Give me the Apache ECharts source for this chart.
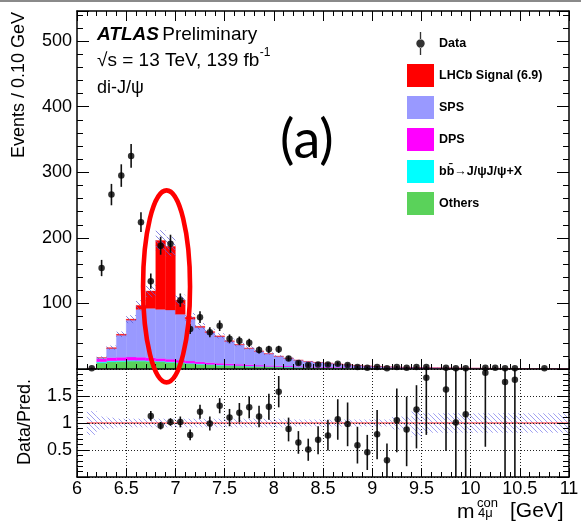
<!DOCTYPE html>
<html><head><meta charset="utf-8">
<script src="https://cdn.jsdelivr.net/npm/echarts@6/dist/echarts.min.js"></script>
<style>html,body{margin:0;padding:0;background:#fff}#c{width:581px;height:527px}</style>
</head><body><div id="c"></div>
<script>
// ---------- DATA ----------
// histogram bin edges (GeV)
const binEdges = [6.1,6.2,6.3,6.4,6.5,6.6,6.7,6.8,6.9,7.0,7.1,7.2,7.3,7.4,7.5,7.6,7.7,7.8,7.9,8.0,
  8.1,8.2,8.3,8.4,8.5,8.6,8.7,8.8,8.9,9.0,9.1,9.2,9.3,9.4,9.5,9.6,9.7,9.8,9.9,10.0,
  10.1,10.2,10.3,10.4,10.5,10.6,10.7,10.8,10.9,11.0];
// stacked predictions per bin (events / 0.1 GeV)
const others = [0.5,9.5,11,11.5,12,12,11.5,11,10,9, 8,7,6.2,5.5,5,4.5,4,3.6,3.3,3,
  2.7,2.4,2.2,2,1.8,1.6,1.5,1.4,1.3,1.2, 1.1,1.0,0.9,0.85,0.8,0.75,0.7,0.65,0.6,0.55,
  0.5,0.45,0.42,0.4,0.37,0.35,0.32,0.3,0.28];
const bbbar = [0.1,1.5,1.5,1.4,1.3,1.2,1.1,1.0,1.0,0.9, 0.8,0.8,0.7,0.7,0.6,0.6,0.5,0.5,0.5,0.4,
  0.4,0.4,0.35,0.35,0.3,0.3,0.3,0.25,0.25,0.2, 0.2,0.2,0.18,0.17,0.16,0.15,0.14,0.13,0.12,0.11,
  0.1,0.1,0.09,0.09,0.08,0.08,0.07,0.07,0.07];
const dps = [0.2,4.5,5,5,5,4.8,4.5,4.2,4,3.7, 3.4,3.1,2.8,2.6,2.4,2.2,2,1.8,1.6,1.5,
  1.4,1.3,1.2,1.1,1.0,0.9,0.8,0.75,0.7,0.65, 0.6,0.55,0.5,0.45,0.4,0.38,0.35,0.33,0.3,0.28,
  0.26,0.24,0.22,0.2,0.19,0.18,0.17,0.16,0.15];
const sps = [0.1,1.5,13.8,33.6,56.2,73.0,75.4,74.8,75.0,69.9, 63.8,52.6,46.1,40.7,34.2,29.6,25.0,21.2,17.8,14.4,
  11.85,9.3,7.75,6.55,5.7,4.8,3.9,3.1,2.35,1.85, 1.4,1.15,0.92,0.83,0.64,0.52,0.41,0.34,0.28,0.21,
  0.19,0.16,0.12,0.09,0.06,0.03,0.02,0,0];
const signal = [0,0.3,1.2,1.5,1.5,6,26.5,105,97,21.5, 3,1.5,1.2,1.0,0.8,0.6,0.5,0.4,0.3,0.2,
  0.15,0.1,0,0,0,0,0,0,0,0, 0,0,0,0,0,0,0,0,0,0, 0,0,0,0,0,0,0,0,0];
// relative uncertainty of the total prediction (hatched band)
const relUnc = [0.22,0.12,0.10, 0.08,0.08,0.08,0.08,0.08,0.08,0.08,0.08,0.08,0.08,0.08,0.08,0.08,0.08,0.08,0.08,0.08,
  0.065,0.065,0.065,0.065,0.065,0.065,0.065,0.065,0.065,0.065,0.065, 0.12,0.12,0.26,
  0.18,0.18,0.18,0.18,0.18,0.18,0.18,0.18,0.18,0.18,0.18,0.18,0.18,0.18,0.18];
// data points
const dataX = [6.15,6.25,6.35,6.45,6.55,6.65,6.75,6.85,6.95,7.05,7.15,7.25,7.35,7.45,7.55,7.65,7.75,7.85,7.95,8.05,
  8.15,8.25,8.35,8.45,8.55,8.65,8.75,8.85,8.95,9.05,9.15,9.25,9.35,9.45,9.55,
  9.75,9.85,9.95,10.15,10.25,10.35,10.45,10.75];
const dataY = [1,154,266,295,325,224,134,188,191,105,61,79,56,66,46,43,40,29,30,30,
  16,9,6,7,7,8,6,3,2,3,1,3,2,3,3,
  2,1,1,2,2,1,1,1];
const dataErr = [1,12.4,16.3,17.2,18,15,11.6,13.7,13.8,10.2,7.8,8.9,7.5,8.1,6.8,6.6,6.3,5.4,5.5,5.5,
  4,3,2.4,2.6,2.6,2.8,2.4,1.7,1.4,1.7,1,1.7,1.4,1.7,1.7,
  1.4,1,1,1.4,1.4,1,1,1];
// ratio panel
const ratioX = [6.75,6.85,6.95,7.05,7.15,7.25,7.35,7.45,7.55,7.65,7.75,7.85,7.95,8.05,
  8.15,8.25,8.35,8.45,8.55,8.65,8.75,8.85,8.95,9.05,9.15,9.25,9.35,9.45,9.55,
  9.75,9.85,9.95,10.15,10.35,10.45];
const ratioY = [1.13,0.95,1.02,1.02,0.78,1.21,0.99,1.32,1.10,1.19,1.29,1.12,1.30,1.58,
  0.89,0.64,0.51,0.69,0.77,1.07,0.98,0.59,0.46,0.79,0.31,1.05,0.88,1.25,1.84,
  1.62,1.01,1.16,1.93,1.76,1.80];
const ratioLo = [1.04,0.88,0.95,0.92,0.68,1.08,0.86,1.18,0.94,1.01,1.09,0.92,1.06,1.29,
  0.66,0.43,0.30,0.42,0.49,0.69,0.57,0.25,0.13,0.33,0,0.46,0.20,0.53,0.78,
  0.48,0,0,0.56,0,0];
const ratioHi = [1.22,1.02,1.09,1.12,0.88,1.34,1.12,1.46,1.26,1.37,1.49,1.32,1.54,1.87,
  1.10,0.85,0.71,0.94,1.06,1.44,1.38,0.93,0.78,1.24,0.62,1.64,1.49,1.70,2,
  2,2,2,2,2,2];
const xTicks = {min:6, max:11, step:0.5};
const yTopTicks = {min:0, max:546, major:100, minor:20};
const yRatioTicks = {min:0, max:2, step:0.5};
const legendNames = ['Data','LHCb Signal (6.9)','SPS','DPS','bb\u0304\u2192J/\u03c8J/\u03c8+X','Others'];

// ---------- CHART ----------
const F = '"Liberation Sans", Arial, Helvetica, sans-serif';
const chart = echarts.init(document.getElementById('c'), null, {renderer:'canvas'});

function makeHatch(color){
  const c = document.createElement('canvas'); c.width = 5; c.height = 5;
  const g = c.getContext('2d'); g.strokeStyle = color; g.lineWidth = 1;
  g.beginPath();
  g.moveTo(-1,-1); g.lineTo(6,6);
  g.moveTo(-1,4); g.lineTo(2,7);
  g.moveTo(4,-1); g.lineTo(7,2);
  g.stroke();
  return c;
}
const hatchTop = makeHatch('rgba(95,95,215,0.75)');
const hatchBot = makeHatch('rgba(120,120,235,0.7)');

const nb = binEdges.length - 1;
const comps = [
  {name: legendNames[5], color:'#5ad25a', vals: others},
  {name: legendNames[4], color:'#00ffff', vals: bbbar},
  {name: legendNames[3], color:'#ff00ff', vals: dps},
  {name: legendNames[2], color:'#9999ff', vals: sps},
  {name: legendNames[1], color:'#ff0000', vals: signal}
];
const base = new Array(nb).fill(0);
const stackSeries = comps.map(cp => {
  const d = [];
  for (let i = 0; i < nb; i++) {
    d.push([binEdges[i], binEdges[i+1], base[i], base[i] + cp.vals[i]]);
    base[i] += cp.vals[i];
  }
  return {
    type:'custom', name: cp.name, xAxisIndex:0, yAxisIndex:0, z:2,
    itemStyle:{color: cp.color}, data: d, silent:true,
    renderItem(params, api){
      const p0 = api.coord([api.value(0), api.value(2)]);
      const p1 = api.coord([api.value(1), api.value(3)]);
      return {type:'rect', shape:{x:p0[0], y:p1[1], width:p1[0]-p0[0], height:p0[1]-p1[1]},
        style:{fill: cp.color, stroke: cp.color, lineWidth:0.3}};
    }
  };
});
const totals = base.slice();
const bandTop = totals.map((t,i) => [binEdges[i], binEdges[i+1], t*(1-relUnc[i]), t*(1+relUnc[i])]);
const bandBot = relUnc.map((u,i) => [binEdges[i], binEdges[i+1], 1-u, 1+u]);

function bandSeries(data, xi, yi, pat){
  return {type:'custom', xAxisIndex:xi, yAxisIndex:yi, z:3, silent:true, clip:true, data,
    renderItem(params, api){
      const p0 = api.coord([api.value(0), api.value(2)]);
      const p1 = api.coord([api.value(1), api.value(3)]);
      return {type:'rect', shape:{x:p0[0], y:p1[1], width:p1[0]-p0[0], height:p0[1]-p1[1]},
        style:{fill:{image:pat, repeat:'repeat'}}};
    }};
}
function errSeries(data, xi, yi){
  return {type:'custom', xAxisIndex:xi, yAxisIndex:yi, z:4, silent:true, clip:true, data,
    renderItem(params, api){
      const a = api.coord([api.value(0), api.value(1)]);
      const b = api.coord([api.value(0), api.value(2)]);
      return {type:'line', shape:{x1:a[0], y1:a[1], x2:b[0], y2:b[1]}, style:{stroke:'#111', lineWidth:1.6}};
    }};
}

const axLine = {show:true, onZero:false, lineStyle:{color:'#000', width:1.5}};
function xAx(grid, pos, tickLen, minorLen, labels, split){
  return {gridIndex:grid, type:'value', position:pos, min:xTicks.min, max:xTicks.max, interval:xTicks.step, z:10,
    axisLine:axLine,
    axisTick:{show:true, inside:true, length:tickLen, lineStyle:{color:'#000', width:1}},
    minorTick:{show:true, splitNumber:5, length:minorLen, lineStyle:{color:'#000', width:1}},
    axisLabel:{show:labels, color:'#000', fontFamily:F, fontSize:18, margin:3, showMaxLabel:true, showMinLabel:true},
    splitLine:{show:split, lineStyle:{color:'#222', width:1, type:[1,2]}},
    minorSplitLine:{show:false}};
}
function yTopAx(pos, interval, tickLen, line, labels){
  return {gridIndex:0, type:'value', position:pos, min:yTopTicks.min, max:yTopTicks.max, interval, z:10,
    axisLine: line ? axLine : {show:false},
    axisTick:{show:true, inside:true, length:tickLen, lineStyle:{color:'#000', width:1}},
    axisLabel:{show:labels, color:'#000', fontFamily:F, fontSize:18, margin:5,
      formatter: v => (v > 0 && v <= 500 && v % 100 === 0) ? String(v) : ''},
    splitLine:{show:false}};
}
function yBotAx(pos, labels){
  return {gridIndex:1, type:'value', position:pos, min:yRatioTicks.min, max:yRatioTicks.max, interval:yRatioTicks.step, z:10,
    axisLine:axLine,
    axisTick:{show:true, inside:true, length:12, lineStyle:{color:'#000', width:1}},
    minorTick:{show:true, splitNumber:5, length:6, lineStyle:{color:'#000', width:1}},
    axisLabel:{show:labels, color:'#000', fontFamily:F, fontSize:18, margin:5,
      formatter: v => (v > 0 && v < 2) ? String(v) : ''},
    splitLine:{show:labels, lineStyle:{color:'#222', width:1, type:[1,2]}},
    minorSplitLine:{show:false}};
}

const option = {
  animation:false,
  backgroundColor:'#fff',
  grid:[
    {left:77, top:11, width:492, height:358, containLabel:false, outerBoundsMode:'none'},
    {left:77, top:369, width:492, height:108, containLabel:false, outerBoundsMode:'none'}
  ],
  xAxis:[
    xAx(0,'bottom',10,5,false,false),
    xAx(0,'top',10,5,false,false),
    xAx(1,'bottom',9,5,true,true)
  ],
  yAxis:[
    yTopAx('left',yTopTicks.major,12,true,true),
    yTopAx('left',yTopTicks.minor,6,false,false),
    yTopAx('right',yTopTicks.major,12,true,false),
    yTopAx('right',yTopTicks.minor,6,false,false),
    yBotAx('left',true),
    yBotAx('right',false)
  ],
  legend:{
    orient:'vertical', left:402, top:27, itemWidth:27, itemHeight:23, itemGap:9, selectedMode:false,
    textStyle:{fontFamily:F, fontWeight:'bold', fontSize:12.5, color:'#000'},
    data:[
      {name:legendNames[0], icon:'path://M11.3,0h1.4v8h-1.4z M11.3,16h1.4v8h-1.4z M7.6,12a4.4,4.4 0 1,0 8.8,0a4.4,4.4 0 1,0 -8.8,0z'},
      {name:legendNames[1], icon:'rect'},
      {name:legendNames[2], icon:'rect'},
      {name:legendNames[3], icon:'rect'},
      {name:legendNames[4], icon:'rect'},
      {name:legendNames[5], icon:'rect'}
    ]
  },
  series:[
    ...stackSeries,
    bandSeries(bandTop, 0, 0, hatchTop),
    errSeries(dataX.map((x,i) => [x, Math.max(0, dataY[i]-dataErr[i]), dataY[i]+dataErr[i]]), 0, 0),
    {type:'scatter', name:legendNames[0], xAxisIndex:0, yAxisIndex:0, z:5, symbol:'circle', symbolSize:6.5,
      itemStyle:{color:'#000'}, data: dataX.map((x,i) => [x, dataY[i]]), silent:true},
    bandSeries(bandBot, 2, 4, hatchBot),
    {type:'line', xAxisIndex:2, yAxisIndex:4, z:3, symbol:'none', silent:true,
      lineStyle:{color:'#ff2020', width:1}, data:[[binEdges[0],1],[binEdges[nb],1]]},
    errSeries(ratioX.map((x,i) => [x, ratioLo[i], ratioHi[i]]), 2, 4),
    {type:'scatter', xAxisIndex:2, yAxisIndex:4, z:5, symbol:'circle', symbolSize:6.5, clip:true,
      itemStyle:{color:'#000'}, data: ratioX.map((x,i) => [x, ratioY[i]]), silent:true}
  ]
};
chart.setOption(option);

// ---------- annotations / texts ----------
const mctx = document.createElement('canvas').getContext('2d');
function tw(str, size){ mctx.font = size + 'px ' + F; return mctx.measureText(str).width; }
const sLine = '\u221As = 13 TeV, 139 fb';
const ell = chart.convertToPixel({xAxisIndex:0, yAxisIndex:0}, [6.91, 126]);
const graphics = [
  {type:'rect', shape:{x:0, y:0, width:581, height:2}, style:{fill:'#8a8a8a'}, silent:true},
  {type:'text', x:97, y:35, style:{text:'{a|ATLAS} {b|Preliminary}', textVerticalAlign:'middle',
    rich:{a:{fontFamily:F, fontSize:19, fontWeight:'bold', fontStyle:'italic', fill:'#000'},
          b:{fontFamily:F, fontSize:19, fill:'#000'}}}},
  {type:'text', x:97, y:61, style:{text:sLine, font:'19px ' + F, fill:'#000', textVerticalAlign:'middle'}},
  {type:'text', x:97 + tw(sLine,19) + 0.5, y:53, style:{text:'-1', font:'12px ' + F, fill:'#000', textVerticalAlign:'middle'}},
  {type:'text', x:97, y:88, style:{text:'di-J/\u03c8', font:'18px ' + F, fill:'#000', textVerticalAlign:'middle'}},
  {type:'text', x:280, y:141, style:{text:'(a)', font:'normal 54px Lato, "DejaVu Sans", sans-serif', fill:'#000', textVerticalAlign:'middle'}},
  {type:'text', x:19, y:85, rotation:Math.PI/2, style:{text:'Events / 0.10 GeV', font:'18px ' + F, fill:'#000', textAlign:'center', textVerticalAlign:'middle'}},
  {type:'text', x:25, y:422, rotation:Math.PI/2, style:{text:'Data/Pred.', font:'18px ' + F, fill:'#000', textAlign:'center', textVerticalAlign:'middle'}},
  {type:'text', x:457, y:512, style:{text:'m', font:'21px ' + F, fill:'#000', textVerticalAlign:'middle'}},
  {type:'text', x:477, y:503, style:{text:'con', font:'13px ' + F, fill:'#000', textVerticalAlign:'middle'}},
  {type:'text', x:478, y:513, style:{text:'4\u03bc', font:'13px ' + F, fill:'#000', textVerticalAlign:'middle'}},
  {type:'text', x:510, y:511, style:{text:'[GeV]', font:'21px ' + F, fill:'#000', textVerticalAlign:'middle'}},
  {type:'ellipse', shape:{cx:ell[0], cy:ell[1], rx:23.5, ry:96}, style:{fill:'none', stroke:'#ff0000', lineWidth:4.6}, z:100, silent:true}
];
chart.setOption({graphic: graphics});
</script>
</body></html>
